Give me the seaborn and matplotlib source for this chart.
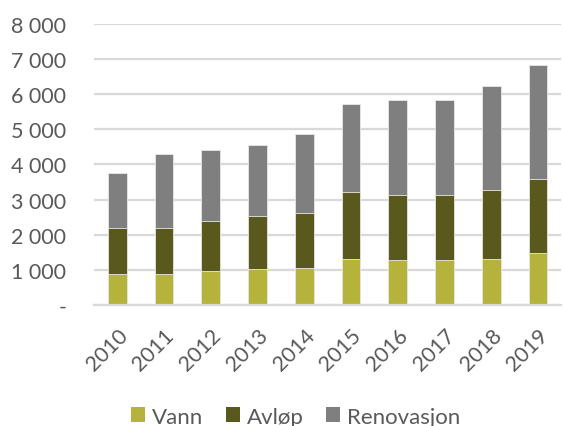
import matplotlib
matplotlib.use("Agg")
import matplotlib.pyplot as plt
import matplotlib.ticker as mticker
from matplotlib.patches import Patch
import numpy as np
import pandas as pd
import seaborn as sns

years = ["2010", "2011", "2012", "2013", "2014", "2015", "2016", "2017", "2018", "2019"]
vann = [890, 890, 975, 1030, 1070, 1305, 1285, 1285, 1325, 1485]
avlop = [1300, 1300, 1415, 1500, 1560, 1900, 1855, 1855, 1955, 2115]
renovasjon = [1580, 2115, 2015, 2025, 2230, 2515, 2705, 2705, 2960, 3235]
series_names = ["Vann", "Avløp", "Renovasjon"]
colors = ["#b5b33b", "#5a591d", "#7f7f7f"]
yticks = [0, 1000, 2000, 3000, 4000, 5000, 6000, 7000, 8000]

sns.set_theme(style="white")
plt.rcParams["font.family"] = ["Lato", "DejaVu Sans"]

df = pd.DataFrame({"year": years, "Vann": vann, "Avløp": avlop, "Renovasjon": renovasjon})
df["c1"] = df["Vann"]
df["c2"] = df["Vann"] + df["Avløp"]
df["c3"] = df["c2"] + df["Renovasjon"]

fig = plt.figure(figsize=(5.63, 4.27), dpi=100)
ax = fig.add_axes([0.167, 0.283, 0.830, 0.659])

for col, c in zip(["c3", "c2", "c1"], colors[::-1]):
    sns.barplot(data=df, x="year", y=col, color=c, width=0.4, ax=ax,
                edgecolor="#e8e8e8", linewidth=0.6, saturation=1, errorbar=None)

ax.set_ylim(0, 8000)
ax.set_xlim(-0.5, len(years) - 0.5)
ax.set_yticks(yticks)
ax.yaxis.set_major_formatter(mticker.FuncFormatter(
    lambda v, p: "-" if v == 0 else f"{int(v):,}".replace(",", " ")))
ax.grid(axis="y", color="#d9d9d9", linewidth=1.6)
ax.set_axisbelow(True)
for s in ["top", "right", "left"]:
    ax.spines[s].set_visible(False)
ax.spines["bottom"].set_color("#d9d9d9")
ax.spines["bottom"].set_linewidth(1.6)
ax.set_xlabel("")
ax.set_ylabel("")
ax.tick_params(axis="y", labelsize=15.5, colors="#595959", length=0, pad=20)
for lab in ax.get_yticklabels():
    lab.set_horizontalalignment("right")
ax.tick_params(axis="x", labelsize=15.5, colors="#595959", length=0, pad=14)
plt.setp(ax.get_xticklabels(), rotation=45, ha="right", rotation_mode="anchor")

handles = [Patch(facecolor=c, edgecolor="none") for c in colors]
fig.legend(handles, series_names, loc="center", bbox_to_anchor=(0.525, 0.022),
           ncol=3, frameon=False, fontsize=16, labelcolor="#595959",
           handlelength=0.65, handleheight=0.65, handletextpad=0.3, columnspacing=1.0)

fig.savefig("out.png", dpi=100)
